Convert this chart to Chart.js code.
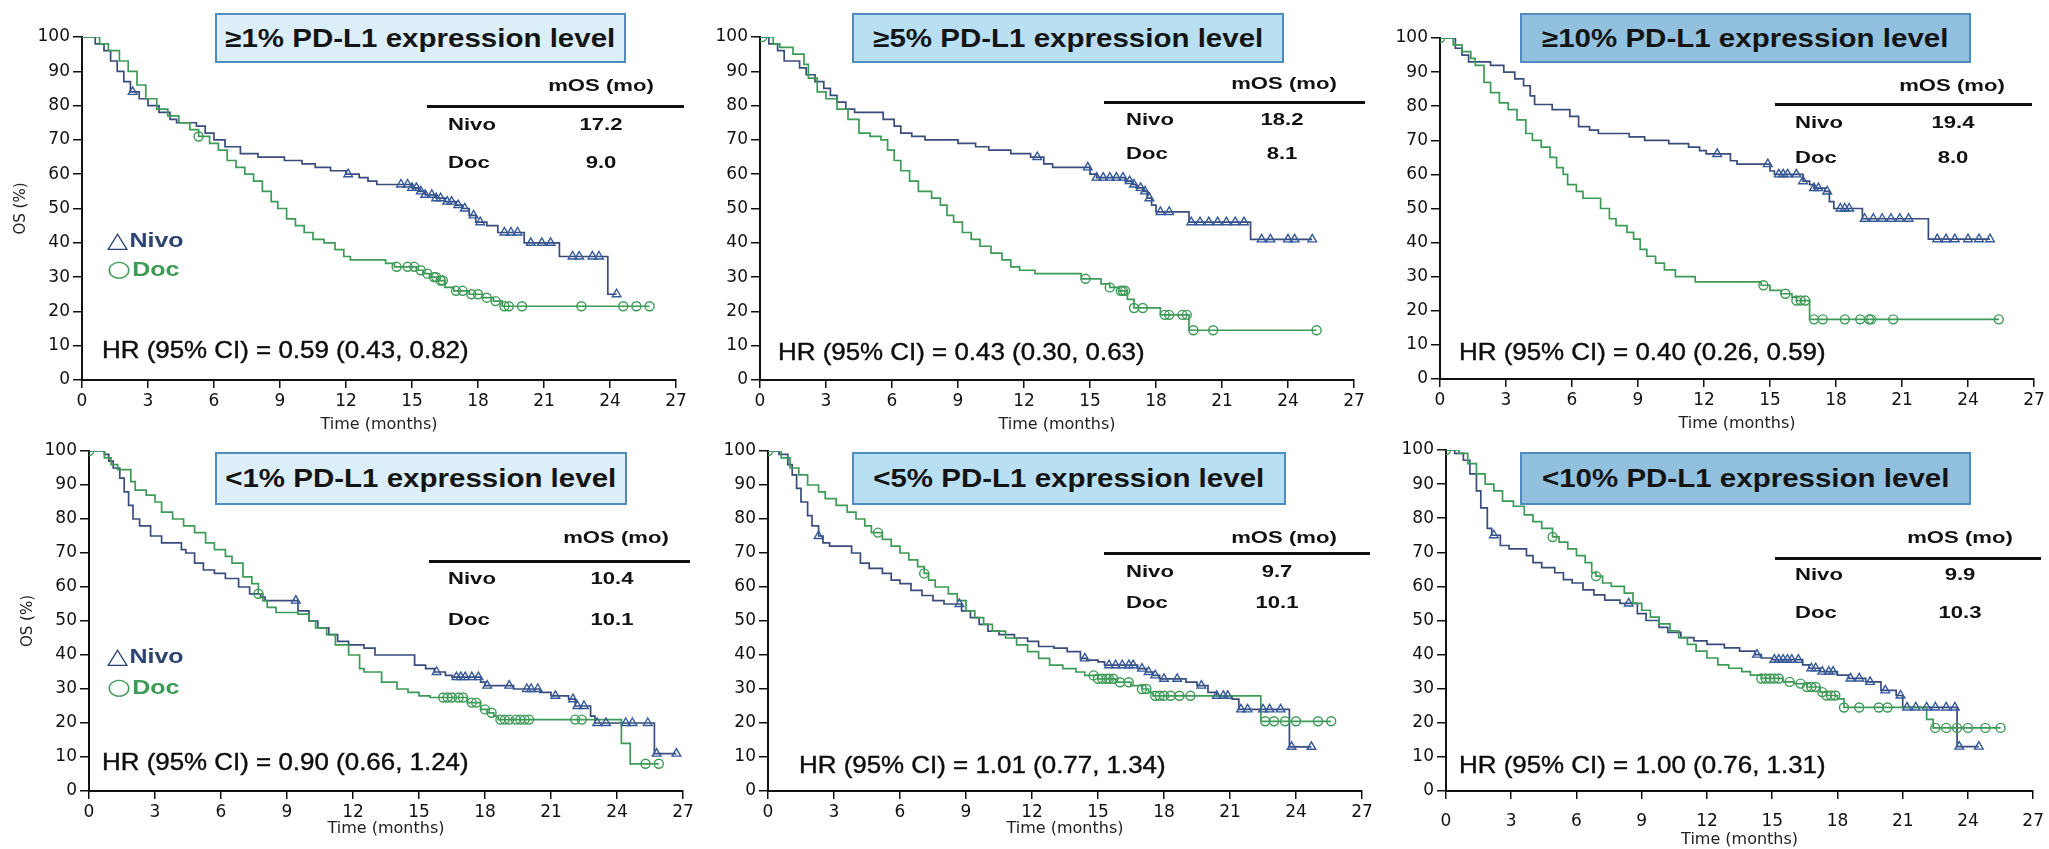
<!DOCTYPE html>
<html>
<head>
<meta charset="utf-8">
<script src="https://cdn.jsdelivr.net/npm/chart.js@4.4.0/dist/chart.umd.min.js"></script>
<style>
  html, body { margin: 0; padding: 0; background: #fff; }
  body { width: 2049px; height: 849px; position: relative; overflow: hidden; font-family: "Liberation Sans", Arial, sans-serif; }
  .box { position: absolute; box-sizing: border-box; border: 2px solid #4f8cbf; display: flex; align-items: center; justify-content: center; z-index: 2; }
  .box span { font-weight: bold; font-size: 25px; color: #141414; transform: scaleX(1.18); white-space: nowrap; }
  .lab { position: absolute; white-space: nowrap; line-height: 1; z-index: 3; }
  .c { transform-origin: center center; }
  .l { transform-origin: left center; }
  .mos { font-weight: bold; font-size: 17px; color: #111; }
  .hr { font-size: 24px; color: #0d0d0d; -webkit-text-stroke: 0.4px #0d0d0d; }
  .leg { font-weight: bold; font-size: 20px; }
  .leg .sym { font-family: "DejaVu Sans", sans-serif; font-weight: normal; font-size: 22px; margin-right: 1px; }
  .rule { position: absolute; height: 3px; background: #111; z-index: 3; }
</style>
</head>
<body>
<script>
// ---- data: [time (months), OS %] at each step ----
const p1Nivo = [[0,100],[0.6,98],[1.0,96],[1.3,93],[1.6,90],[1.9,87],[2.2,84],[2.6,82],[3.0,80],[3.5,78],[4.0,76],[4.3,75],[5.2,74],[5.6,72],[6.0,70],[6.5,68],[7.2,66],[8.0,65],[9.2,64],[10.0,63],[10.6,62],[11.3,61],[12.0,60],[12.6,59],[13.0,58],[13.4,57],[15.0,56],[15.3,55],[15.6,54],[16.1,53],[16.5,52],[17.0,51],[17.3,50],[17.6,48],[17.9,46],[18.4,45],[18.9,43],[20.1,40],[21.7,36],[23.9,25],[24.3,25]];
const p1NivoCens = [2.3,12.1,14.5,14.8,15.0,15.2,15.4,15.6,15.9,16.1,16.3,16.6,16.8,17.1,17.4,17.8,18.1,19.2,19.5,19.8,20.4,20.9,21.3,22.3,22.6,23.2,23.5,24.3];
const p1Doc = [[0,100],[0.8,98],[1.2,96],[1.7,93],[2.1,90],[2.5,86],[2.9,82],[3.4,79],[3.9,77],[4.4,75],[4.9,73],[5.3,71],[5.8,69],[6.2,67],[6.6,64],[7.0,62],[7.4,60],[7.8,58],[8.2,55],[8.6,52],[8.9,50],[9.3,47],[9.7,45],[10.1,43],[10.5,41],[11.0,40],[11.5,38],[11.9,36],[12.2,35],[13.8,34],[14.2,33],[15.2,32],[15.5,31],[15.8,30],[16.2,29],[16.5,27],[16.9,26],[17.6,25],[18.2,24],[18.7,23],[19.1,21.5],[25.8,21.5]];
const p1DocCens = [5.3,14.3,14.8,15.1,15.4,15.7,16.0,16.1,16.3,16.4,17.0,17.3,17.7,18.0,18.4,18.8,19.2,19.4,20.0,22.7,24.6,25.2,25.8];

const p2Nivo = [[0,100],[0.4,98],[0.8,96],[1.1,93],[1.8,91],[2.1,89],[2.5,87],[2.9,85],[3.2,83],[3.5,81],[3.9,79],[4.3,78],[5.6,76],[6.1,74],[6.4,72],[6.9,71],[7.5,70],[9.0,69],[9.8,68],[10.4,67],[11.4,66],[12.3,65],[12.9,63],[13.3,62],[15.0,60],[15.3,59],[16.6,58],[16.9,57],[17.1,56],[17.4,55],[17.6,53],[17.8,51],[18.0,49],[19.5,46],[22.3,41],[25.1,41]];
const p2NivoCens = [12.6,14.9,15.3,15.6,15.9,16.2,16.5,16.8,17.0,17.3,17.5,17.7,18.2,18.6,19.6,20.0,20.4,20.8,21.2,21.6,22.0,22.8,23.2,24.0,24.3,25.1];
const p2Doc = [[0,100],[0.6,98],[0.9,97],[1.5,95],[2.0,92],[2.2,88],[2.6,84],[3.0,82],[3.5,79],[4.0,76],[4.5,72],[5.0,71],[5.5,70],[5.8,67],[6.1,64],[6.4,61],[6.8,58],[7.2,55],[7.8,53],[8.2,51],[8.5,48],[8.8,46],[9.2,43],[9.6,41],[10.0,39],[10.5,37],[11.0,35],[11.4,33],[11.8,32],[12.5,31],[14.6,29.5],[15.5,28],[15.9,27],[16.3,26],[16.7,23.5],[17.0,21],[18.2,19],[19.5,14.5],[25.3,14.5]];
const p2DocCens = [0.1,14.8,15.9,16.4,16.5,16.6,17.0,17.4,18.4,18.6,19.2,19.4,19.7,20.6,25.3];

const p3Nivo = [[0,100],[0.7,97],[1.0,95],[1.3,93],[2.3,92],[2.9,90],[3.4,88],[3.8,86],[4.1,83],[4.3,80.5],[5.1,79],[5.9,77],[6.3,74],[6.8,73],[7.2,72],[8.6,71],[9.3,70],[10.4,69],[11.3,68],[11.8,67],[12.1,66],[13.2,64],[13.5,63],[15.0,61],[15.2,60],[16.5,58],[16.8,57],[17.0,56],[17.5,55],[17.7,52],[17.9,50],[19.2,47],[22.2,41],[25.0,41]];
const p3NivoCens = [12.6,14.9,15.4,15.6,15.8,16.2,16.5,17.0,17.2,17.6,18.2,18.4,18.6,19.3,19.7,20.1,20.5,20.9,21.3,22.6,23.0,23.4,24.0,24.5,25.0];
const p3Doc = [[0,100],[0.6,98],[1.0,96],[1.4,94],[1.6,92],[2.0,87],[2.3,84],[2.7,81],[3.1,79],[3.5,76],[3.9,72],[4.2,70],[4.6,68],[5.0,65],[5.3,62],[5.6,60],[5.8,57],[6.2,55],[6.5,53],[7.3,50],[7.7,47],[8.0,45],[8.5,43],[8.8,41],[9.1,38],[9.4,36],[9.8,34],[10.2,32],[10.7,30],[11.6,28.5],[14.6,27.5],[15.0,26],[15.5,25],[16.0,24],[16.2,23],[16.8,17.5],[25.4,17.5]];
const p3DocCens = [0,14.7,15.7,16.2,16.4,16.6,17.0,17.4,18.4,19.1,19.5,19.6,20.6,25.4];

const p4Nivo = [[0,100],[0.7,99],[0.9,97],[1.1,95],[1.4,92],[1.6,88],[1.8,84],[2.0,80],[2.3,78],[2.8,75],[3.3,73],[4.2,71],[4.4,70],[4.8,67],[5.2,65],[5.7,64],[6.2,62.5],[6.8,60],[7.3,58],[7.8,57],[8.0,56],[9.5,53],[10.0,50],[10.4,48],[10.9,46],[11.3,44],[11.8,43],[12.5,42],[13.0,40],[14.8,37],[15.3,36],[15.7,35],[16.2,34],[16.5,33.5],[17.8,32],[18.0,31],[19.3,30],[20.5,29],[21.0,28],[21.8,27],[22.1,25],[22.8,22],[23.0,20],[25.7,11],[26.7,11]];
const p4NivoCens = [9.4,15.8,16.7,16.9,17.1,17.4,17.7,18.1,19.1,19.9,20.1,20.4,21.2,22.0,22.2,22.5,23.1,23.5,24.4,24.7,25.4,25.8,26.7];
const p4Doc = [[0,100],[0.7,98],[1.0,96],[1.3,94.5],[1.9,91],[2.1,88.5],[2.6,87],[3.0,85],[3.3,82],[3.8,80],[4.3,78],[4.8,76],[5.3,73],[5.7,71],[6.2,69],[6.5,67],[7.0,63],[7.4,61],[7.7,58],[7.9,56],[8.1,54],[8.5,52.5],[9.5,52],[10.0,50],[10.3,48],[10.8,46],[11.2,43],[11.8,40],[12.3,36],[12.5,35],[13.3,32],[14.0,30],[14.5,29],[15.0,28],[15.5,27.5],[17.2,26],[17.8,24],[18.1,23],[18.4,22],[18.6,21],[24.2,14],[24.6,8],[25.9,8]];
const p4DocCens = [0,7.7,16.1,16.3,16.5,16.8,17.0,17.4,17.6,18.0,18.3,18.7,18.9,19.1,19.4,19.6,19.8,20.0,22.1,22.4,25.3,25.9];

const p5Nivo = [[0,100],[0.5,99],[0.9,96],[1.1,93],[1.3,89],[1.5,85],[1.8,81],[2.0,78],[2.3,75],[2.5,73],[2.8,72],[3.8,70],[4.2,67],[4.6,65.5],[5.2,64],[5.6,62],[6.0,61],[6.5,59],[7.0,57.5],[7.5,56],[8.0,55],[8.8,53],[9.2,51],[9.6,49],[10.0,47],[10.5,46],[11.2,45],[11.8,44],[12.3,42.5],[13.0,42],[13.6,41],[14.2,39],[14.5,38.5],[15.0,38],[15.3,37],[16.8,36],[17.2,35],[17.5,34],[17.8,33],[19.0,32],[19.5,31],[20.0,29],[20.4,28],[21.1,27],[21.4,24],[23.7,13],[24.7,13]];
const p5NivoCens = [2.3,8.7,14.4,15.5,15.8,16.1,16.4,16.6,17.0,17.3,17.6,18.0,18.6,19.7,20.4,20.7,20.9,21.5,21.8,22.5,22.8,23.3,23.8,24.7];
const p5Doc = [[0,100],[0.6,98],[1.0,95],[1.4,93],[1.8,90],[2.3,88],[2.6,86],[3.1,84],[3.6,82],[4.0,80],[4.4,78],[4.7,76],[5.2,74],[5.6,72],[6.0,70],[6.4,68],[6.8,66],[7.1,64],[7.3,62],[7.6,60],[8.2,58],[8.6,56],[9.0,53],[9.4,51],[9.8,49],[10.2,47],[10.8,45],[11.3,43],[11.8,41],[12.3,39],[12.8,37],[13.4,36],[14.0,35],[14.4,34],[15.0,33],[15.8,32],[16.5,31],[17.0,30],[17.3,29],[17.5,28],[22.4,20.5],[25.6,20.5]];
const p5DocCens = [0,5.0,7.1,14.8,15.0,15.2,15.4,15.5,15.7,16.0,16.4,17.0,17.2,17.6,17.8,18.0,18.3,18.7,19.2,22.6,23.0,23.5,24.0,25.0,25.6];

const p6Nivo = [[0,100],[0.4,99],[0.8,97],[1.1,93],[1.4,88],[1.6,83],[1.9,77],[2.1,75],[2.5,72],[2.9,71],[3.7,69],[4.0,67],[4.4,65.5],[5.0,64],[5.4,62],[5.8,61],[6.3,59],[6.8,57.5],[7.3,56],[8.0,55],[8.8,52],[9.2,50],[9.8,48],[10.2,46.5],[10.8,45],[11.4,44],[12.0,43],[12.8,42],[13.5,41],[14.2,40],[14.5,39],[15.0,38.5],[16.4,37],[16.7,36],[17.2,35],[18.0,34],[18.5,33],[19.3,32],[20.0,29.5],[20.7,28],[21.0,24.5],[23.5,13],[24.5,13]];
const p6NivoCens = [2.2,8.4,14.3,15.1,15.3,15.5,15.7,15.9,16.2,16.8,17.0,17.3,17.6,17.8,18.6,19.0,19.5,20.2,20.9,21.2,21.6,22.1,22.5,23.0,23.4,23.6,24.5];
const p6Doc = [[0,100],[0.6,99],[1.0,96],[1.4,93],[1.8,90],[2.2,88],[2.6,85],[3.1,83.5],[3.6,81],[4.0,79],[4.4,77],[4.9,74.5],[5.2,73],[5.6,71],[6.0,69],[6.4,67],[6.7,64],[6.9,63],[7.2,61],[7.6,60],[8.2,58],[8.6,55],[9.0,53],[9.4,51],[9.8,49],[10.3,47],[10.7,45],[11.1,43],[11.5,41],[12.0,39],[12.5,37],[13.0,36],[13.6,35],[14.0,34],[14.5,33],[15.5,32],[16.0,31.5],[16.6,30.5],[17.2,29],[17.5,28],[18.0,27],[18.3,24.5],[22.1,21],[22.4,18.5],[25.5,18.5]];
const p6DocCens = [0,4.9,6.9,14.5,14.7,14.9,15.1,15.3,15.8,16.3,16.6,16.8,17.0,17.3,17.5,17.7,17.9,18.3,19.0,19.9,20.3,22.5,23.0,23.5,24.0,24.8,25.5];

const panelTitles = ['≥1% PD-L1 expression level', '≥5% PD-L1 expression level', '≥10% PD-L1 expression level',
                     '<1% PD-L1 expression level', '<5% PD-L1 expression level', '<10% PD-L1 expression level'];
const mosNivo = ['17.2', '18.2', '19.4', '10.4', '9.7', '9.9'];
const mosDoc = ['9.0', '8.1', '8.0', '10.1', '10.1', '10.3'];
const hrValues = ['0.59 (0.43, 0.82)', '0.43 (0.30, 0.63)', '0.40 (0.26, 0.59)',
                  '0.90 (0.66, 1.24)', '1.01 (0.77, 1.34)', '1.00 (0.76, 1.31)'];
const xMax = 27, xStep = 3, yMax = 100, yStep = 10;

const curves = [
  [p1Nivo, p1NivoCens, p1Doc, p1DocCens],
  [p2Nivo, p2NivoCens, p2Doc, p2DocCens],
  [p3Nivo, p3NivoCens, p3Doc, p3DocCens],
  [p4Nivo, p4NivoCens, p4Doc, p4DocCens],
  [p5Nivo, p5NivoCens, p5Doc, p5DocCens],
  [p6Nivo, p6NivoCens, p6Doc, p6DocCens]
];

// ---- page layout (px) ----
const areas = [
  { x0: 82,   x1: 676,  top: 37,  bottom: 380, xh: 54, tp: 3,  os: true },
  { x0: 760,  x1: 1354, top: 37,  bottom: 380, xh: 54, tp: 3,  os: false },
  { x0: 1440, x1: 2034, top: 38,  bottom: 379, xh: 54, tp: 3,  os: false },
  { x0: 89,   x1: 683,  top: 451, bottom: 791, xh: 47, tp: 3,  os: true },
  { x0: 768,  x1: 1362, top: 451, bottom: 791, xh: 47, tp: 3,  os: false },
  { x0: 1446, x1: 2040, top: 450, bottom: 791, xh: 58, tp: 12, os: false }
];
const boxes = [
  { l: 215, t: 13, w: 411, h: 50, bg: '#dceff9' },
  { l: 852, t: 13, w: 432, h: 50, bg: '#b9dff3' },
  { l: 1520, t: 13, w: 451, h: 50, bg: '#91c1de' },
  { l: 215, t: 452, w: 412, h: 53, bg: '#dceff9' },
  { l: 852, t: 452, w: 434, h: 53, bg: '#b9dff3' },
  { l: 1520, t: 452, w: 451, h: 53, bg: '#91c1de' }
];
const tables = [
  { hx: 601,  hy: 85,  ry: 106, r0: 427,  r1: 684,  lx: 448,  vx: 601,  ny: 124, dy: 162 },
  { hx: 1284, hy: 83,  ry: 102, r0: 1104, r1: 1365, lx: 1126, vx: 1282, ny: 119, dy: 153 },
  { hx: 1952, hy: 85,  ry: 104, r0: 1775, r1: 2032, lx: 1795, vx: 1953, ny: 122, dy: 157 },
  { hx: 616,  hy: 537, ry: 561, r0: 429,  r1: 690,  lx: 448,  vx: 612,  ny: 578, dy: 619 },
  { hx: 1284, hy: 537, ry: 553, r0: 1104, r1: 1370, lx: 1126, vx: 1277, ny: 571, dy: 602 },
  { hx: 1960, hy: 537, ry: 558, r0: 1775, r1: 2041, lx: 1795, vx: 1960, ny: 574, dy: 612 }
];
const hrPos = [[102, 350], [778, 352], [1459, 352], [102, 762], [799, 765], [1459, 765]];
const legendPos = [[107, 240, 269], null, null, [107, 656, 687], null, null];

const NIVO = '#3a4c7b', NIVO_MK = '#35599a', DOC = '#3e9a57';
const TICK_FONT = { family: 'DejaVu Sans', size: 17 };

function survAt(steps, t) {
  let s = steps[0][1];
  steps.forEach(p => { if (p[0] <= t) s = p[1]; });
  return s;
}

function label(txt, cls, x, y, sx, centered, color, sym) {
  const d = document.createElement('div');
  d.className = 'lab ' + cls + (centered ? ' c' : ' l');
  if (sym) {
    const s = document.createElement('span');
    s.className = 'sym';
    s.textContent = sym;
    d.appendChild(s);
  }
  d.appendChild(document.createTextNode(txt));
  d.style.left = x + 'px';
  d.style.top = y + 'px';
  if (color) d.style.color = color;
  d.style.transform = centered ? `translate(-50%,-50%) scaleX(${sx})` : `translateY(-50%) scaleX(${sx})`;
  document.body.appendChild(d);
  return d;
}

areas.forEach((a, i) => {
  const [nivo, nivoCens, doc, docCens] = curves[i];
  const L = 72, T = 14, R = 16;
  const w = a.x1 - a.x0 + L + R;
  const h = a.bottom - a.top + T + a.xh;
  const cv = document.createElement('canvas');
  cv.width = w; cv.height = h;
  cv.style.cssText = `position:absolute;left:${a.x0 - L}px;top:${a.top - T}px;width:${w}px;height:${h}px;z-index:1`;
  document.body.appendChild(cv);

  new Chart(cv, {
    type: 'scatter',
    data: {
      datasets: [
        { data: nivoCens.map(t => ({ x: t, y: survAt(nivo, t) })), pointStyle: 'triangle', pointRadius: 5,
          borderColor: NIVO_MK, backgroundColor: 'rgba(255,255,255,0)', borderWidth: 1.4 },
        { data: docCens.map(t => ({ x: t, y: survAt(doc, t) })), pointStyle: 'circle', pointRadius: 4.5,
          borderColor: DOC, backgroundColor: 'rgba(255,255,255,0)', borderWidth: 1.4 },
        { data: doc.map(p => ({ x: p[0], y: p[1] })), showLine: true, stepped: true, pointRadius: 0,
          borderColor: DOC, borderWidth: 1.7, fill: false },
        { data: nivo.map(p => ({ x: p[0], y: p[1] })), showLine: true, stepped: true, pointRadius: 0,
          borderColor: NIVO, borderWidth: 1.7, fill: false }
      ]
    },
    options: {
      responsive: false,
      animation: false,
      devicePixelRatio: 1,
      layout: { padding: { left: 0, top: T, right: R, bottom: 0 } },
      plugins: { legend: { display: false }, tooltip: { enabled: false } },
      scales: {
        x: {
          type: 'linear', min: 0, max: xMax,
          ticks: { stepSize: xStep, color: '#111', font: TICK_FONT, padding: a.tp, maxRotation: 0, autoSkip: false },
          grid: { drawOnChartArea: false, drawTicks: true, tickLength: 8, color: '#111', lineWidth: 1.5 },
          border: { color: '#111', width: 2 },
          title: { display: true, text: 'Time (months)', color: '#222', font: { family: 'DejaVu Sans', size: 16 }, padding: { top: 0, bottom: 0 } },
          afterFit: s => { s.height = a.xh; }
        },
        y: {
          type: 'linear', min: 0, max: yMax,
          ticks: { stepSize: yStep, color: '#111', font: TICK_FONT, padding: 3 },
          grid: { drawOnChartArea: false, drawTicks: true, tickLength: 9, color: '#111', lineWidth: 1.5 },
          border: { color: '#111', width: 2 },
          title: { display: a.os, text: 'OS (%)', color: '#222', font: { family: 'DejaVu Sans', size: 15 }, padding: { top: 2, bottom: 0 } },
          afterFit: s => { s.width = L; }
        }
      }
    }
  });

  // title box
  const b = boxes[i];
  const bx = document.createElement('div');
  bx.className = 'box';
  bx.style.cssText = `left:${b.l}px;top:${b.t}px;width:${b.w}px;height:${b.h}px;background:${b.bg}`;
  const sp = document.createElement('span');
  sp.textContent = panelTitles[i];
  bx.appendChild(sp);
  document.body.appendChild(bx);

  // mOS table
  const tb = tables[i];
  label('mOS (mo)', 'mos', tb.hx, tb.hy, 1.3, true);
  const rule = document.createElement('div');
  rule.className = 'rule';
  rule.style.cssText = `left:${tb.r0}px;top:${tb.ry - 1}px;width:${tb.r1 - tb.r0}px`;
  document.body.appendChild(rule);
  label('Nivo', 'mos', tb.lx, tb.ny, 1.3, false);
  label(mosNivo[i], 'mos', tb.vx, tb.ny, 1.3, true);
  label('Doc', 'mos', tb.lx, tb.dy, 1.3, false);
  label(mosDoc[i], 'mos', tb.vx, tb.dy, 1.3, true);

  // hazard ratio
  label('HR (95% CI) = ' + hrValues[i], 'hr', hrPos[i][0], hrPos[i][1], 1.08, false);

  // legend
  const lg = legendPos[i];
  if (lg) {
    label('Nivo', 'leg', lg[0], lg[1], 1.25, false, '#2d4372', '△');
    label('Doc', 'leg', lg[0], lg[2], 1.25, false, DOC, '○');
  }
});
</script>
</body>
</html>
